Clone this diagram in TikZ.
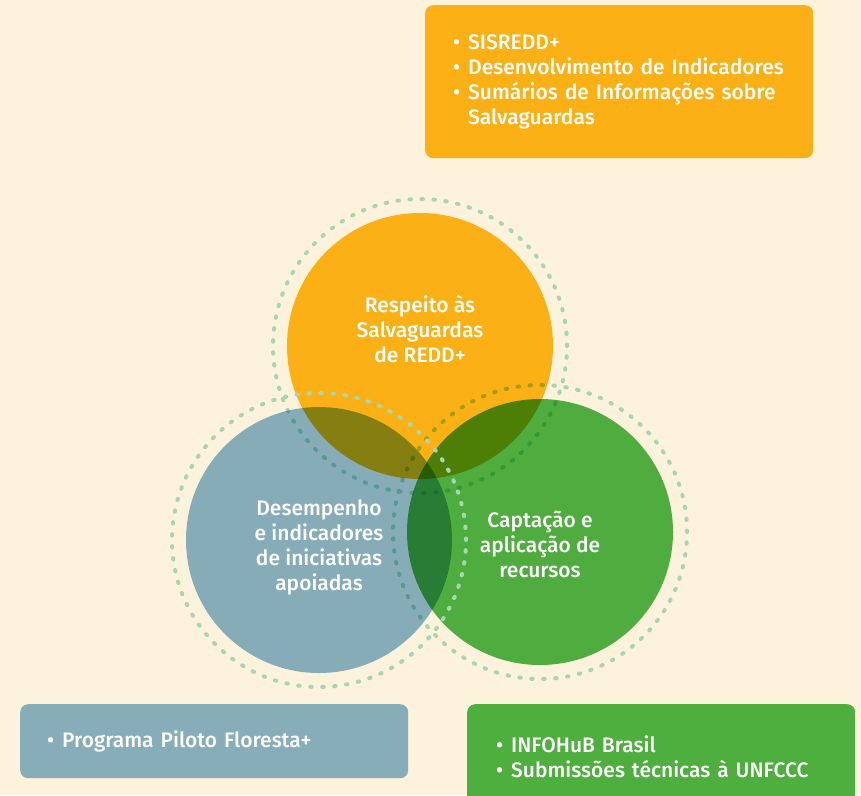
\documentclass[tikz,border=0pt]{standalone}
\usepackage{fontspec}
\setmainfont{Fira Sans}[UprightFont={* Medium}]
\usetikzlibrary{positioning}

\definecolor{cream}{HTML}{FDF2DC}
\definecolor{amber}{HTML}{FBB116}
\definecolor{slate}{HTML}{87AEB8}
\definecolor{leaf}{HTML}{4EAE3E}
\definecolor{halo}{HTML}{A6D6B2}
% disc fills, lifted so that multiply on cream gives the flat colours
\definecolor{amberdisc}{HTML}{FDBB1A}
\definecolor{slatedisc}{HTML}{88B7D5}
\definecolor{leafdisc}{HTML}{4FB748}

% bullet item with a fixed hang
\newcommand{\itm}[1]{\makebox[15pt][l]{\textbullet}#1}

\begin{document}
\begin{tikzpicture}[x=1pt,y=-1pt,
    font=\fontsize{21}{25}\selectfont,
    disc/.style={circle,minimum size=266pt,inner sep=0pt,blend mode=multiply},
    ring/.style={circle,minimum size=294pt,inner sep=0pt,draw=halo,line width=4pt,
        line cap=round,dash pattern=on 1.5pt off 10.5pt},
    caption/.style={align=center,text=white},
    panel/.style={rounded corners=8pt,anchor=north west,align=left,text=white,
        minimum width=388pt,text width=336pt,inner xsep=26pt,inner ysep=0pt}]

  \useasboundingbox[fill=cream] (0,0) rectangle (861,795);

  % halos that sit under the discs
  \node[ring] (halo-r) at (420,346) {};
  \node[ring] (halo-c) at (540,532) {};

  % the three discs
  \node[disc,fill=amberdisc] (respeito) at (420,346) {};
  \node[disc,fill=leafdisc] (captacao) at (540,532) {};
  \node[disc,fill=slatedisc] (desempenho) at (319,540) {};

  % this halo stays on top
  \node[ring] (halo-d) at (319,540) {};

  \node[caption,yshift=17pt] at (respeito) {Respeito às\\Salvaguardas\\de REDD+};
  \node[caption,yshift=-7.5pt] at (desempenho) {Desempenho\\e indicadores\\de iniciativas\\apoiadas};
  \node[caption,yshift=-12.5pt] at (captacao) {Captação e\\aplicação de\\recursos};

  % lists
  \node[panel,fill=amber,minimum height=153pt] (sis) at (425,5)
    {\hspace*{2pt}\itm{SISREDD+}\\\hspace*{2pt}\itm{Desenvolvimento de Indicadores}\\
     \hspace*{2pt}\itm{Sumários de Informações sobre}\\\hspace*{17pt}Salvaguardas};
  \node[panel,fill=slate,minimum height=74pt] (piloto) at (20,704)
    {\hspace*{1pt}\itm{Programa Piloto Floresta+}};
  \node[panel,fill=leaf,minimum height=105pt] (infohub) at (467,704)
    {\hspace*{3pt}\itm{INFOHuB Brasil}\\\hspace*{3pt}\itm{Submissões técnicas à UNFCCC}};

\end{tikzpicture}
\end{document}
